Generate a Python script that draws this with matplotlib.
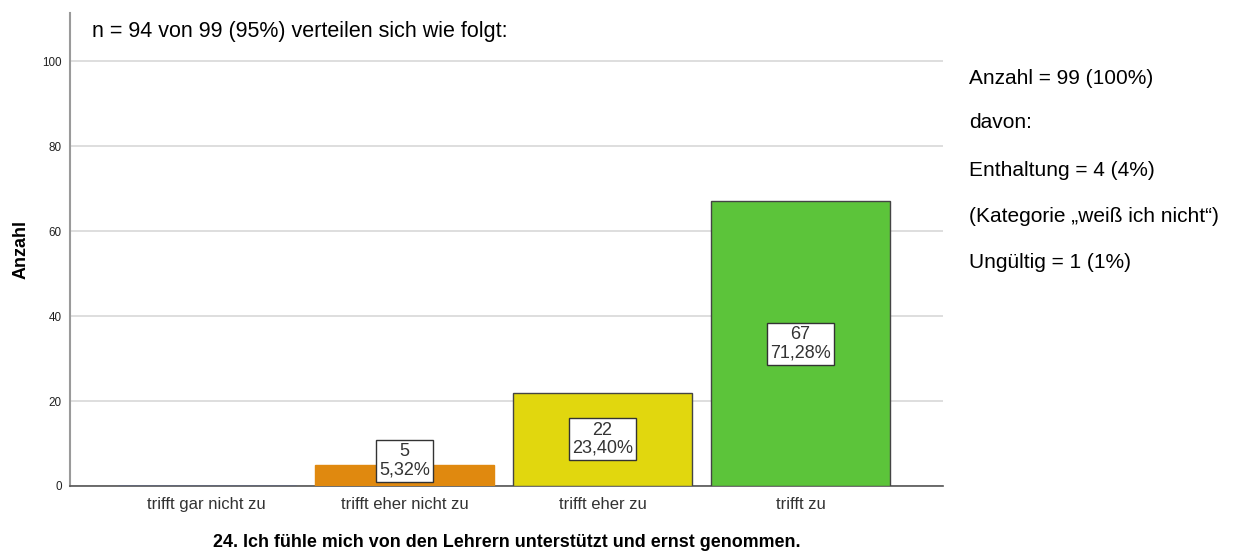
import matplotlib.pyplot as plt
import numpy as np

categories = ["trifft gar nicht zu", "trifft eher nicht zu", "trifft eher zu", "trifft zu"]
counts = [0, 5, 22, 67]
percents = ["", "5,32%", "23,40%", "71,28%"]
bar_colors = ["#3e58ac", "#e0890f", "#e1d70e", "#5cc43a"]
edge_colors = ["#3e58ac", "#e0890f", "#444444", "#444444"]
side_notes = ["Anzahl = 99 (100%)", "davon:", "Enthaltung = 4 (4%)",
              "(Kategorie \u201eweiß ich nicht\u201c)", "Ungültig = 1 (1%)"]

plt.rcParams['font.family'] = ['Liberation Sans', 'DejaVu Sans']

fig = plt.figure(figsize=(12.36, 5.51), dpi=100)
ax = fig.add_axes([70/1236, 1 - 486/551, 873/1236, (486 - 13)/551])

x = np.arange(len(categories))
ax.bar(x, counts, width=0.9, color=bar_colors, edgecolor=edge_colors,
       linewidth=1.0, zorder=3)

# label boxes: centred in the bar, lifted for very short bars
for xi, c, p in zip(x, counts, percents):
    if c == 0:
        continue
    y = max(c / 2, 5.9)
    ax.text(xi, y, f"{c}\n{p}", ha='center', va='center', fontsize=13,
            color='#333333', linespacing=1.1, zorder=4,
            bbox=dict(boxstyle='square,pad=0.18', facecolor='white',
                      edgecolor='#333333', linewidth=1.0))

ax.set_xlim(-0.69, 3.72)
ax.set_ylim(0, 111.3)
ax.set_yticks([0, 20, 40, 60, 80, 100])
ax.set_xticks(x)
ax.set_xticklabels(categories, fontsize=12, color='#333333')
ax.tick_params(axis='y', labelsize=8.4, length=0, pad=6, colors='#222222')
ax.tick_params(axis='x', length=0, pad=8)
ax.grid(axis='y', color='#d8d8d8', linewidth=1.2, zorder=0)
ax.set_axisbelow(True)

for s in ['top', 'right']:
    ax.spines[s].set_visible(False)
ax.spines['left'].set_color('#9a9a9a')
ax.spines['left'].set_linewidth(1.5)
ax.spines['bottom'].set_color('#555555')
ax.spines['bottom'].set_linewidth(1.2)

ax.set_ylabel("Anzahl", fontsize=13, fontweight='bold', labelpad=9)
ax.set_xlabel("24. Ich fühle mich von den Lehrern unterstützt und ernst genommen.",
              fontsize=12.9, fontweight='bold', labelpad=16)

fig.text(92/1236, 1 - 32/551, "n = 94 von 99 (95%) verteilen sich wie folgt:",
         fontsize=15.5, va='center', ha='left')

note_y = [79, 122, 170, 217, 262]
for yy, t in zip(note_y, side_notes):
    fig.text(969/1236, 1 - yy/551, t, fontsize=15, va='center', ha='left')

fig.savefig("out.png", dpi=100)
